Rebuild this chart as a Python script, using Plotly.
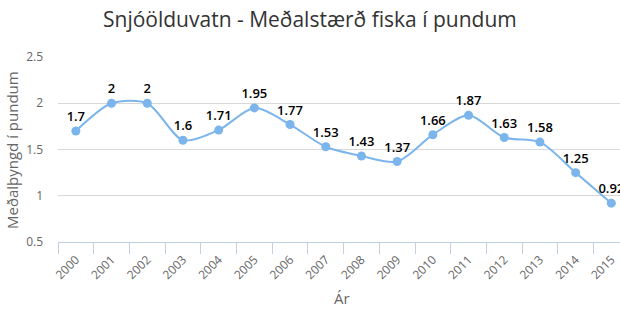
import plotly.graph_objects as go

# Mean fish size per year, Snjóölduvatn
years = ["2000", "2001", "2002", "2003", "2004", "2005", "2006", "2007",
         "2008", "2009", "2010", "2011", "2012", "2013", "2014", "2015"]
mean_weight = [1.7, 2, 2, 1.6, 1.71, 1.95, 1.77, 1.53,
               1.43, 1.37, 1.66, 1.87, 1.63, 1.58, 1.25, 0.92]
y_ticks = [0.5, 1, 1.5, 2, 2.5]

FONT = "Open Sans"
LINE_BLUE = "#7cb5ec"
AXIS_BLUE = "#c0d0e0"

W, H = 620, 330
L, R, T, B = 58, 0, 57, 88
plot_w = W - L - R
plot_h = H - T - B
cat_w = 35.7                       # px per category
x_hi = -0.5 + plot_w / cat_w       # last category runs past the right edge

fig = go.Figure()

fig.add_trace(go.Scatter(
    x=years, y=mean_weight,
    mode="lines+markers+text",
    line=dict(color=LINE_BLUE, width=2, shape="spline", smoothing=0.8),
    marker=dict(color=LINE_BLUE, size=9),
    text=[f"{v:g}" for v in mean_weight],
    textposition="top center",
    textfont=dict(family=FONT, size=13, color="#000000", weight=600),
    cliponaxis=True,
    showlegend=False,
))


def px_x(px):
    return (px - L) / plot_w


def px_y(py):
    return (H - B - py) / plot_h


fig.update_layout(
    width=W, height=H,
    margin=dict(l=L, r=R, t=T, b=B),
    paper_bgcolor="white", plot_bgcolor="white",
    font=dict(family=FONT, color="#666666", size=12),
    xaxis=dict(
        type="category", categoryorder="array", categoryarray=years,
        range=[-0.5, x_hi], tickson="boundaries",
        ticks="outside", ticklen=11, tickcolor=AXIS_BLUE, tickwidth=1,
        showline=True, linecolor=AXIS_BLUE, linewidth=1,
        showgrid=False, zeroline=False, tickangle=-45,
        ticklabelstandoff=5,
        tickfont=dict(family=FONT, size=12, color="#666666"),
        fixedrange=True,
    ),
    yaxis=dict(
        range=[0.5, 2.5], tickvals=y_ticks,
        ticktext=[f"{v:g}" for v in y_ticks],
        showgrid=True, gridcolor="#d8d8d8", gridwidth=1,
        zeroline=False, showline=False, ticks="",
        ticklabelstandoff=14,
        tickfont=dict(family=FONT, size=12, color="#666666"),
        fixedrange=True,
    ),
    annotations=[
        dict(text="Snjóölduvatn - Meðalstærð fiska í pundum",
             xref="paper", yref="paper", x=px_x(310), y=px_y(19),
             xanchor="center", yanchor="middle", showarrow=False,
             font=dict(family=FONT, size=21, color="#333333")),
        dict(text="Meðalþyngd í pundum",
             xref="paper", yref="paper", x=px_x(12), y=px_y(150),
             xanchor="center", yanchor="middle", textangle=-90, showarrow=False,
             font=dict(family=FONT, size=15, color="#666666")),
        dict(text="Ár",
             xref="paper", yref="paper", x=px_x(342), y=px_y(298),
             xanchor="center", yanchor="middle", showarrow=False,
             font=dict(family=FONT, size=15, color="#666666")),
    ],
)

fig.write_html("out.html")
